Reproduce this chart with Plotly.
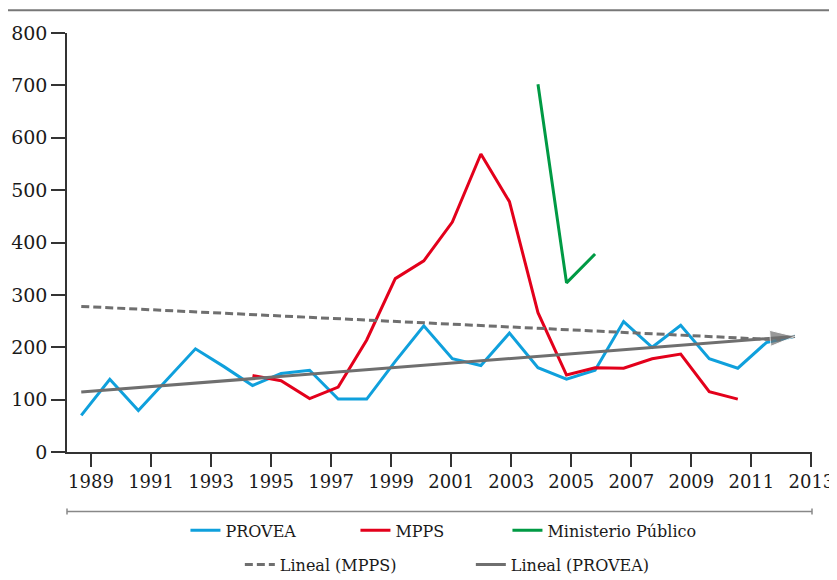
import plotly.graph_objects as go

# ---------------- data ----------------
years = list(range(1988, 2014))  # 26 yearly points
provea = [70, 139, 79, 137, 197, 163, 127, 150, 156, 101, 101, 173, 241,
          178, 165, 227, 161, 139, 156, 249, 200, 242, 178, 160, 209, 221]

mpps_years = list(range(1994, 2012))
mpps = [146, 136, 102, 124, 214, 331, 365, 439, 569, 478, 266, 147, 161,
        160, 178, 187, 115, 101]

mp_years = [2004, 2005, 2006]
ministerio = [702, 323, 378]

trend_provea_x = [1988, 2013]
trend_provea = [114.6, 220.7]
trend_mpps_x = [1988, 2012.5]
trend_mpps = [278, 214]

tick_years = list(range(1989, 2014, 2))
y_ticks = list(range(0, 801, 100))

# ---------------- styling ----------------
FONT = "DejaVu Serif"
BLUE = "#0fa0dc"
RED = "#e3001b"
GREEN = "#009a44"
GRAY = "#6f6f6f"
AXIS = "#333333"

fig = go.Figure()

fig.add_trace(go.Scatter(x=years, y=provea, mode="lines", name="PROVEA",
                         line=dict(color=BLUE, width=3), legend="legend",
                         legendwidth=125))
fig.add_trace(go.Scatter(x=mpps_years, y=mpps, mode="lines", name="MPPS",
                         line=dict(color=RED, width=3), legend="legend",
                         legendwidth=107))
fig.add_trace(go.Scatter(x=mp_years, y=ministerio, mode="lines",
                         name="Ministerio Público",
                         line=dict(color=GREEN, width=3), legend="legend"))
fig.add_trace(go.Scatter(x=trend_mpps_x, y=trend_mpps, mode="lines",
                         name="Lineal (MPPS)",
                         line=dict(color=GRAY, width=3, dash="8px,4px"),
                         legend="legend2", legendwidth=186))
fig.add_trace(go.Scatter(x=trend_provea_x, y=trend_provea, mode="lines",
                         name="Lineal (PROVEA)",
                         line=dict(color=GRAY, width=3), legend="legend2"))
# arrow head at the end of the PROVEA trend line
fig.add_trace(go.Scatter(x=trend_provea_x, y=trend_provea, mode="markers",
                         marker=dict(symbol="arrow", size=[0, 26], color=GRAY,
                                     angleref="previous"),
                         showlegend=False, hoverinfo="skip"))
# the labelled year axis (empty trace so the axis is drawn)
fig.add_trace(go.Scatter(x=tick_years, y=[None] * len(tick_years),
                         xaxis="x2", yaxis="y", mode="lines",
                         showlegend=False, hoverinfo="skip"))

# the page body adds an 8px offset, so the figure is shifted by 8px
fig.update_layout(
    width=837, height=572,
    margin=dict(l=59, r=33, t=25, b=128, autoexpand=False),
    paper_bgcolor="white", plot_bgcolor="white",
    font=dict(family=FONT, size=16, color="#1a1a1a"),
    xaxis=dict(range=[1987.5, 2013.6], visible=False),
    xaxis2=dict(overlaying="x", anchor="y", side="bottom",
                range=[1988.2, 2013.02], tickmode="array",
                tickvals=tick_years, ticktext=[str(t) for t in tick_years],
                ticks="outside", ticklen=13, tickwidth=1.5, tickcolor=AXIS,
                showline=True, linecolor=AXIS, linewidth=1.5,
                showgrid=False, zeroline=False,
                tickfont=dict(family=FONT, size=18, color="#1a1a1a")),
    yaxis=dict(range=[0, 800], tickmode="array", tickvals=y_ticks,
               ticks="outside", ticklen=14, tickwidth=1.5, tickcolor=AXIS,
               showline=True, linecolor=AXIS, linewidth=1.5,
               showgrid=False, zeroline=False,
               tickfont=dict(family=FONT, size=19, color="#1a1a1a")),
    legend=dict(orientation="h", x=0.159, xanchor="left", y=-0.187,
                yanchor="middle", font=dict(family=FONT, size=16),
                bgcolor="rgba(0,0,0,0)"),
    legend2=dict(orientation="h", x=0.232, xanchor="left", y=-0.269,
                 yanchor="middle", font=dict(family=FONT, size=16),
                 bgcolor="rgba(0,0,0,0)"),
    shapes=[
        # top rule
        dict(type="line", xref="paper", yref="paper", x0=-0.083, x1=1.04,
             y0=1.054, y1=1.054, line=dict(color="#777777", width=2)),
        # bottom bracket
        dict(type="line", xref="paper", yref="paper", x0=0, x1=1,
             y0=-0.1418, y1=-0.1418, line=dict(color="#888888", width=1.5)),
        dict(type="line", xref="paper", yref="paper", x0=0, x1=0,
             y0=-0.135, y1=-0.149, line=dict(color="#888888", width=1.5)),
        dict(type="line", xref="paper", yref="paper", x0=1, x1=1,
             y0=-0.135, y1=-0.149, line=dict(color="#888888", width=1.5)),
    ],
)

fig.write_html("out.html")
